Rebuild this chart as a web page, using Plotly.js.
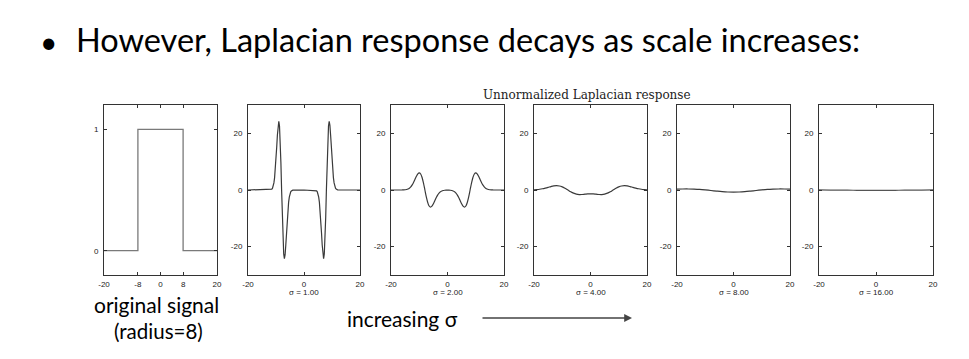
<!DOCTYPE html>
<html>
<head>
<meta charset="utf-8">
<script src="https://cdn.plot.ly/plotly-3.0.1.min.js"></script>
<style>
  html, body { margin: 0; padding: 0; background: #fff; }
  #chart { width: 969px; height: 359px; }
</style>
</head>
<body>
<div id="chart"></div>
<script>
// ---- data ----
const signalX = [-20, -8, -8, 8, 8, 20];
const signalY = [0, 0, 1, 1, 0, 0];

const sigma1X = [-20,-12,-11.75,-11.5,-11.25,-11,-10.75,-10.5,-10.25,-10,-9.75,-9.5,-9.25,-9,-8.75,-8.5,-8.25,-8,-7.75,-7.5,-7.25,-7,-6.75,-6.5,-6.25,-6,-5.75,-5.5,-5.25,-5,-4.75,-4.5,-4.25,-4,0,4,4.25,4.5,4.75,5,5.25,5.5,5.75,6,6.25,6.5,6.75,7,7.25,7.5,7.75,8,8.25,8.5,8.75,9,9.25,9.5,9.75,10,10.25,10.5,10.75,11,11.25,11.5,11.75,12,20];
const sigma1Y = [0,0.05,0.13,0.31,0.66,1.33,2.50,4.38,7.14,10.80,15.10,19.43,22.83,24.20,22.59,17.60,9.67,0,-9.67,-17.60,-22.59,-24.20,-22.83,-19.43,-15.10,-10.80,-7.14,-4.38,-2.50,-1.33,-0.66,-0.31,-0.13,-0.05,0,-0.05,-0.13,-0.31,-0.66,-1.33,-2.50,-4.38,-7.14,-10.80,-15.10,-19.43,-22.83,-24.20,-22.59,-17.60,-9.67,0,9.67,17.60,22.59,24.20,22.83,19.43,15.10,10.80,7.14,4.38,2.50,1.33,0.66,0.31,0.13,0.05,0];

const sigma2X = [-20,-19.5,-19,-18.5,-18,-17.5,-17,-16.5,-16,-15.5,-15,-14.5,-14,-13.5,-13,-12.5,-12,-11.5,-11,-10.5,-10,-9.5,-9,-8.5,-8,-7.5,-7,-6.5,-6,-5.5,-5,-4.5,-4,-3.5,-3,-2.5,-2,-1.5,-1,-0.5,0,0.5,1,1.5,2,2.5,3,3.5,4,4.5,5,5.5,6,6.5,7,7.5,8,8.5,9,9.5,10,10.5,11,11.5,12,12.5,13,13.5,14,14.5,15,15.5,16,16.5,17,17.5,18,18.5,19,19.5,20];
const sigma2Y = [0,0,0,0,0,0,0,0,0.01,0.03,0.08,0.17,0.33,0.63,1.10,1.79,2.70,3.78,4.86,5.71,6.05,5.65,4.40,2.42,0,-2.42,-4.40,-5.65,-6.05,-5.71,-4.86,-3.78,-2.70,-1.79,-1.10,-0.63,-0.33,-0.17,-0.08,-0.04,-0.02,-0.04,-0.08,-0.17,-0.33,-0.63,-1.10,-1.79,-2.70,-3.78,-4.86,-5.71,-6.05,-5.65,-4.40,-2.42,0,2.42,4.40,5.65,6.05,5.71,4.86,3.78,2.70,1.79,1.10,0.63,0.33,0.17,0.08,0.03,0.01,0,0,0,0,0,0,0,0];

const sigma4X = [-20,-19,-18,-17,-16,-15,-14,-13,-12,-11,-10,-9,-8,-7,-6,-5,-4,-3,-2,-1,0,1,2,3,4,5,6,7,8,9,10,11,12,13,14,15,16,17,18,19,20];
const sigma4Y = [0.08,0.16,0.27,0.45,0.68,0.94,1.21,1.43,1.51,1.41,1.10,0.60,0,-0.61,-1.12,-1.45,-1.60,-1.58,-1.49,-1.39,-1.35,-1.39,-1.49,-1.58,-1.60,-1.45,-1.12,-0.61,0,0.60,1.10,1.41,1.51,1.43,1.21,0.94,0.68,0.45,0.27,0.16,0.08];

const sigma8X = [-20,-18,-16,-14,-12,-10,-8,-6,-4,-2,0,2,4,6,8,10,12,14,16,18,20];
const sigma8Y = [0.30,0.35,0.36,0.31,0.21,0.04,-0.17,-0.39,-0.58,-0.71,-0.76,-0.71,-0.58,-0.39,-0.17,0.04,0.21,0.31,0.36,0.35,0.30];

const sigma16X = [-20,-16,-12,-8,-4,0,4,8,12,16,20];
const sigma16Y = [0.03,-0.01,-0.05,-0.09,-0.13,-0.14,-0.13,-0.09,-0.05,-0.01,0.03];

const sigmaLabels = ['σ = 1.00', 'σ = 2.00', 'σ = 4.00', 'σ = 8.00', 'σ = 16.00'];
const signalXTicks = [-20, -8, 0, 8, 20];
const signalYTicks = [0, 1];
const respXTicks = [-20, 0, 20];
const respYTicks = [-20, 0, 20];

// ---- layout helpers (pixel -> paper) ----
const W = 969, H = 359;
const px = v => v / W;
const py = v => 1 - v / H;

const panelLeft = [104, 248, 391, 534, 677, 819];
const panelRight = [217, 360, 504, 647, 790, 933];
const panelTop = 105, panelBottom = 275;

const lineCol = '#333';
const tickFont = { family: 'Liberation Sans, Arial, sans-serif', size: 8, color: '#222' };
function axisX(i, tickvals) {
  return {
    domain: [px(panelLeft[i]), px(panelRight[i])],
    range: [-20, 20],
    tickvals: tickvals,
    ticktext: tickvals.map(v => String(v)),
    ticks: 'inside', ticklen: 3, tickwidth: 1, tickcolor: lineCol,
    showline: true, linecolor: lineCol, linewidth: 1, mirror: 'ticks',
    showgrid: false, zeroline: false,
    tickfont: tickFont, ticklabelstandoff: 1,
    anchor: i === 0 ? 'y' : 'y' + (i + 1),
    fixedrange: true
  };
}
function axisY(i, range, tickvals) {
  return {
    domain: [py(panelBottom), py(panelTop)],
    range: range,
    tickvals: tickvals,
    ticktext: tickvals.map(v => String(v)),
    ticks: 'inside', ticklen: 3, tickwidth: 1, tickcolor: lineCol,
    showline: true, linecolor: lineCol, linewidth: 1, mirror: 'ticks',
    showgrid: false, zeroline: false,
    tickfont: tickFont, ticklabelstandoff: 3,
    anchor: i === 0 ? 'x' : 'x' + (i + 1),
    fixedrange: true
  };
}

const curveStyle = { color: '#3a3a3a', width: 1.2 };
const traces = [
  { x: signalX, y: signalY, xaxis: 'x', yaxis: 'y', mode: 'lines', line: { color: '#7a7a7a', width: 1.3 } },
  { x: sigma1X, y: sigma1Y, xaxis: 'x2', yaxis: 'y2', mode: 'lines', line: curveStyle },
  { x: sigma2X, y: sigma2Y, xaxis: 'x3', yaxis: 'y3', mode: 'lines', line: Object.assign({ shape: 'spline' }, curveStyle) },
  { x: sigma4X, y: sigma4Y, xaxis: 'x4', yaxis: 'y4', mode: 'lines', line: Object.assign({ shape: 'spline' }, curveStyle) },
  { x: sigma8X, y: sigma8Y, xaxis: 'x5', yaxis: 'y5', mode: 'lines', line: Object.assign({ shape: 'spline' }, curveStyle) },
  { x: sigma16X, y: sigma16Y, xaxis: 'x6', yaxis: 'y6', mode: 'lines', line: Object.assign({ shape: 'spline' }, { color: '#555', width: 1.2 }) }
];

const layout = {
  width: W, height: H,
  margin: { l: 0, r: 0, t: 0, b: 0 },
  paper_bgcolor: '#ffffff', plot_bgcolor: '#ffffff',
  showlegend: false,
  xaxis: axisX(0, signalXTicks),
  yaxis: axisY(0, [-0.2, 1.2], signalYTicks),
  annotations: []
};
for (let i = 1; i < 6; i++) {
  layout['xaxis' + (i + 1)] = axisX(i, respXTicks);
  layout['yaxis' + (i + 1)] = axisY(i, [-30, 30], respYTicks);
}

const ann = layout.annotations;
const slideFont = 'Lato, "Open Sans", sans-serif';
// sigma labels
sigmaLabels.forEach((t, k) => {
  const i = k + 1;
  ann.push({ text: t, xref: 'paper', yref: 'paper',
    x: px((panelLeft[i] + panelRight[i]) / 2), y: py(292),
    xanchor: 'center', yanchor: 'middle', showarrow: false,
    font: tickFont });
});
// figure title
ann.push({ text: 'Unnormalized Laplacian response', xref: 'paper', yref: 'paper',
  x: px(587), y: py(95), xanchor: 'center', yanchor: 'middle', showarrow: false,
  font: { family: '"DejaVu Serif", "Liberation Serif", serif', size: 12, color: '#222' } });
// bullet line
ann.push({ text: '•', xref: 'paper', yref: 'paper', x: px(48), y: py(41),
  xanchor: 'center', yanchor: 'middle', showarrow: false,
  font: { family: slideFont, size: 30, color: '#000' } });
ann.push({ text: 'However, Laplacian response decays as scale increases:', xref: 'paper', yref: 'paper',
  x: px(74), y: py(39), xanchor: 'left', yanchor: 'middle', showarrow: false,
  font: { family: slideFont, size: 32.5, color: '#000' } });
// captions
ann.push({ text: 'original signal', xref: 'paper', yref: 'paper', x: px(156), y: py(304),
  xanchor: 'center', yanchor: 'middle', showarrow: false,
  font: { family: slideFont, size: 21, color: '#000' } });
ann.push({ text: '(radius=8)', xref: 'paper', yref: 'paper', x: px(158), y: py(331),
  xanchor: 'center', yanchor: 'middle', showarrow: false,
  font: { family: slideFont, size: 20.5, color: '#000' } });
ann.push({ text: 'increasing σ', xref: 'paper', yref: 'paper', x: px(402), y: py(318),
  xanchor: 'center', yanchor: 'middle', showarrow: false,
  font: { family: slideFont, size: 21, color: '#000' } });
// arrow
ann.push({ text: '', xref: 'paper', yref: 'paper', x: px(632), y: py(318),
  ax: -151, ay: 0, showarrow: true, arrowhead: 2, arrowsize: 1.2, arrowwidth: 1.3,
  arrowcolor: '#444' });

Plotly.newPlot('chart', traces, layout, { displayModeBar: false, staticPlot: true });
</script>
</body>
</html>
